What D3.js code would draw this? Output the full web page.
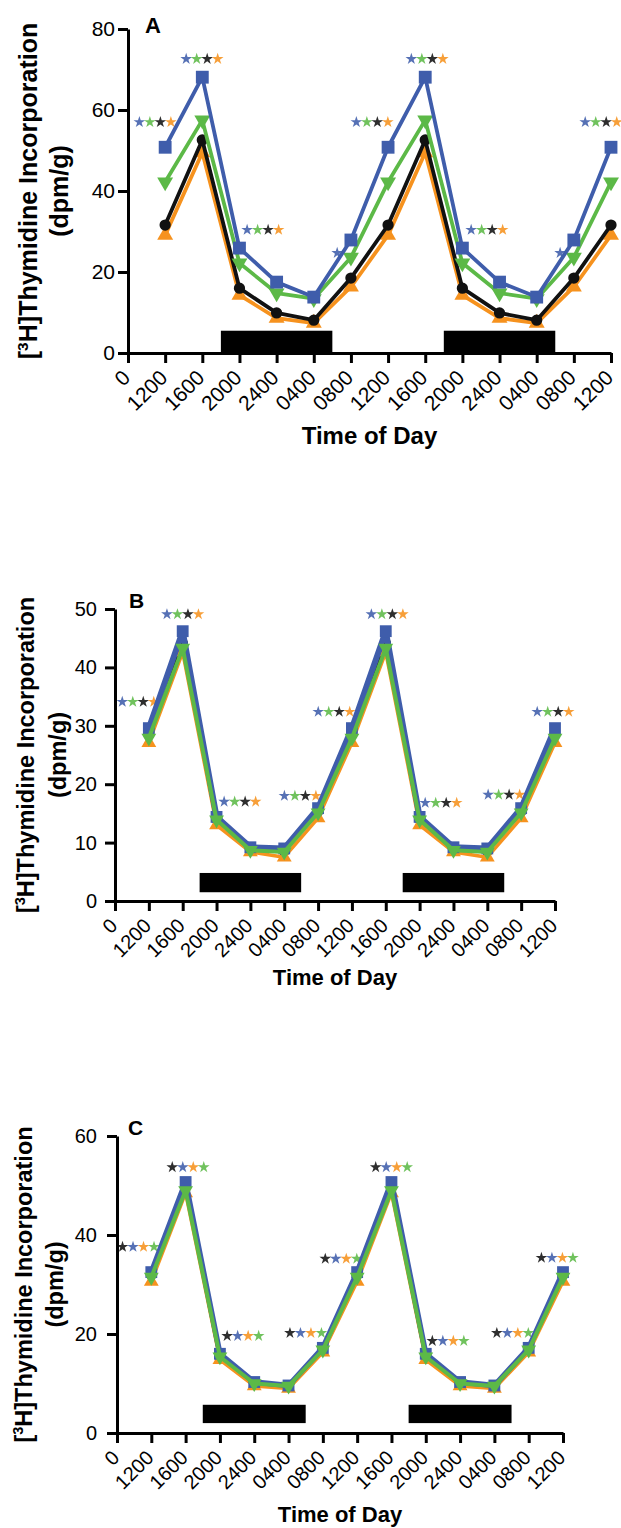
<!DOCTYPE html>
<html>
<head>
<meta charset="utf-8">
<script src="https://cdn.jsdelivr.net/npm/d3@7"></script>
<style>
  html, body { margin: 0; padding: 0; background: #fff; }
  svg { display: block; }
</style>
</head>
<body>
<svg id="fig" width="621" height="1528"></svg>
<script>
// Sampling times (index 0 is the origin tick labelled "0")
const timeLabels = ["0", "1200", "1600", "2000", "2400", "0400", "0800",
                    "1200", "1600", "2000", "2400", "0400", "0800", "1200"];
const sampleIndex = [1, 2, 3, 4, 5, 6, 7, 8, 9, 10, 11, 12, 13];

// Dark period (lights off) in tick-index units
const darkStart = [2.5, 8.5];
const darkEnd = [5.5, 11.5];

// Panel A values (dpm/g)
const aBlue   = [50.8, 68.1, 25.9, 17.5, 13.8, 27.9, 50.8, 68.1, 25.9, 17.5, 13.8, 27.9, 50.8];
const aGreen  = [42.2, 57.5, 22.2, 14.8, 13.4, 23.6, 42.2, 57.5, 22.2, 14.8, 13.4, 23.6, 42.2];
const aBlack  = [31.6, 52.6, 16.0, 9.9, 8.1, 18.5, 31.6, 52.6, 16.0, 9.9, 8.1, 18.5, 31.6];
const aOrange = [29.1, 49.5, 14.3, 8.6, 7.4, 16.3, 29.1, 49.5, 14.3, 8.6, 7.4, 16.3, 29.1];
const aYTicks = [0, 20, 40, 60, 80];
const aStarPos   = [0.73, 1.99, 3.63, 5.63, 6.57, 8.05, 9.66, 11.63, 12.73];
const aStarLevel = [57, 72.6, 30.4, 24.7, 57, 72.6, 30.4, 24.7, 57];
const aStarCount = [4, 4, 4, 1, 4, 4, 4, 1, 4];
const aStarOrder = ["blue", "green", "black", "orange"];

// Panel B values (dpm/g)
const bBlue   = [29.6, 46.2, 14.4, 9.2, 9.0, 15.9, 29.6, 46.2, 14.4, 9.2, 9.0, 15.9, 29.6];
const bGreen  = [27.9, 43.3, 13.9, 8.7, 8.4, 15.1, 27.9, 43.3, 13.9, 8.7, 8.4, 15.1, 27.9];
const bBlack  = [28.4, 44.2, 14.0, 8.8, 8.5, 15.3, 28.4, 44.2, 14.0, 8.8, 8.5, 15.3, 28.4];
const bOrange = [27.1, 42.6, 13.0, 8.4, 7.5, 14.2, 27.1, 42.6, 13.0, 8.4, 7.5, 14.2, 27.1];
const bYTicks = [0, 10, 20, 30, 40, 50];
const bStarPos   = [0.68, 2.0, 3.69, 5.47, 6.47, 8.04, 9.63, 11.49, 12.94];
const bStarLevel = [34.1, 49.1, 17.0, 18.0, 32.4, 49.1, 16.8, 18.2, 32.4];
const bStarCount = [4, 4, 4, 4, 4, 4, 4, 4, 4];
const bStarOrder = ["blue", "green", "black", "orange"];

// Panel C values (dpm/g)
const cBlue   = [32.5, 50.7, 16.0, 10.3, 9.6, 17.2, 32.5, 50.7, 16.0, 10.3, 9.6, 17.2, 32.5];
const cGreen  = [31.5, 49.0, 15.4, 10.0, 9.5, 16.8, 31.5, 49.0, 15.4, 10.0, 9.5, 16.8, 31.5];
const cBlack  = [31.9, 49.6, 15.3, 9.8, 9.3, 16.8, 31.9, 49.6, 15.3, 9.8, 9.3, 16.8, 31.9];
const cOrange = [30.6, 48.5, 14.8, 9.5, 9.0, 16.3, 30.6, 48.5, 14.8, 9.5, 9.0, 16.3, 30.6];
const cYTicks = [0, 20, 40, 60];
const cStarPos   = [0.62, 2.07, 3.67, 5.5, 6.53, 8.0, 9.65, 11.53, 12.83];
const cStarLevel = [37.6, 53.7, 19.6, 20.2, 35.2, 53.7, 18.6, 20.2, 35.4];
const cStarCount = [4, 4, 4, 4, 4, 4, 4, 4, 4];
const cStarOrder = ["black", "blue", "orange", "green"];

const COLORS = { blue: "#3f5dab", green: "#5cb947", black: "#111111", orange: "#f6921e" };
const FONT = "'Liberation Sans', Arial, Helvetica, sans-serif";

const svg = d3.select("#fig");

function markerPath(shape, size) {
  const type = shape === "square" ? d3.symbolSquare
             : shape === "circle" ? d3.symbolCircle
             : d3.symbolTriangle;
  return d3.symbol(type, size)();
}

function drawPanel(p) {
  const x = d3.scaleLinear().domain([0, 13]).range([p.left, p.right]);
  const y = d3.scaleLinear().domain([0, p.yMax]).range([p.bottom, p.top]);
  const g = svg.append("g").attr("font-family", FONT);

  // lights-off bars
  g.append("g").selectAll("rect")
    .data(d3.zip(darkStart, darkEnd))
    .join("rect")
    .attr("x", d => x(d[0]))
    .attr("width", d => x(d[1]) - x(d[0]))
    .attr("y", y(p.bar[1]))
    .attr("height", y(p.bar[0]) - y(p.bar[1]))
    .attr("fill", "#000");

  // significance stars
  const starPath = d3.symbol(d3.symbolStar, 42)();
  const sg = g.append("g");
  p.starPos.forEach((pos, i) => {
    const colors = p.starCount[i] === 4 ? p.starOrder : [p.starOrder[0]];
    colors.forEach((c, k) => {
      const off = (k - (colors.length - 1) / 2) * 10.5;
      sg.append("path")
        .attr("d", starPath)
        .attr("transform", `translate(${x(pos) + off},${y(p.starLevel[i])})`)
        .attr("fill", COLORS[c])
        .attr("opacity", 0.88);
    });
  });

  // series lines and markers
  p.series.forEach(s => {
    const pts = sampleIndex.map((idx, i) => [idx, s.values[i]]);
    g.append("path")
      .datum(pts)
      .attr("fill", "none")
      .attr("stroke", COLORS[s.color])
      .attr("stroke-width", s.width)
      .attr("stroke-linejoin", "round")
      .attr("d", d3.line().x(d => x(d[0])).y(d => y(d[1])));
    g.append("g").selectAll("path")
      .data(pts)
      .join("path")
      .attr("d", markerPath(s.shape, s.size))
      .attr("transform", d => `translate(${x(d[0])},${y(d[1])})` + (s.shape === "down" ? " rotate(180)" : ""))
      .attr("fill", COLORS[s.color]);
  });

  // y axis
  const ya = g.append("g")
    .attr("transform", `translate(${p.left},0)`)
    .call(d3.axisLeft(y).tickValues(p.yTicks).tickSize(10).tickSizeOuter(0).tickPadding(p.yPad));
  ya.select(".domain").attr("stroke-width", 3).attr("stroke", "#000");
  ya.selectAll(".tick line").attr("stroke-width", 3).attr("stroke", "#000");
  ya.selectAll(".tick text").attr("font-size", p.tickFont).attr("font-family", FONT).attr("fill", "#000");

  // x axis
  const xa = g.append("g")
    .attr("transform", `translate(0,${p.bottom})`)
    .call(d3.axisBottom(x).tickValues(d3.range(14)).tickFormat(i => timeLabels[i])
      .tickSize(10).tickSizeOuter(0));
  xa.select(".domain").attr("stroke-width", 3).attr("stroke", "#000");
  xa.selectAll(".tick line").attr("stroke-width", 3).attr("stroke", "#000");
  xa.selectAll(".tick text")
    .attr("font-size", p.tickFont).attr("font-family", FONT).attr("fill", "#000")
    .attr("x", 0).attr("y", 0).attr("dy", 0)
    .attr("text-anchor", "end")
    .attr("transform", "translate(3,26) rotate(-45)");

  // panel letter
  g.append("text")
    .attr("x", p.letterX).attr("y", p.letterY)
    .attr("font-weight", "bold")
    .attr("font-size", p.letterFont).text(p.letter);

  // x title
  g.append("text")
    .attr("x", (p.left + p.right) / 2).attr("y", p.titleY)
    .attr("text-anchor", "middle")
    .attr("font-weight", "bold")
    .attr("font-size", p.titleFont).text("Time of Day");

  // y title (two lines)
  const yc = (p.top + p.bottom) / 2;
  const t1 = g.append("text")
    .attr("transform", `translate(${p.yTitleX[0]},${yc}) rotate(-90)`)
    .attr("text-anchor", "middle")
    .attr("font-weight", "bold")
    .attr("font-size", p.yTitleFont);
  t1.append("tspan").text("[");
  t1.append("tspan").attr("font-size", p.yTitleFont * 0.62).attr("dy", -p.yTitleFont * 0.38).text("3");
  t1.append("tspan").attr("dy", p.yTitleFont * 0.38).text("H]Thymidine Incorporation");
  g.append("text")
    .attr("transform", `translate(${p.yTitleX[1]},${yc}) rotate(-90)`)
    .attr("text-anchor", "middle")
    .attr("font-weight", "bold")
    .attr("font-size", p.yTitleFont).text("(dpm/g)");
}

drawPanel({
  letter: "A", letterX: 145, letterY: 33, letterFont: 22,
  left: 128, right: 611, bottom: 353, top: 29, yMax: 80,
  yTicks: aYTicks, yPad: 3, tickFont: 21,
  bar: [0, 5.5],
  titleY: 444, titleFont: 24,
  yTitleX: [37, 68], yTitleFont: 25,
  starPos: aStarPos, starLevel: aStarLevel, starCount: aStarCount, starOrder: aStarOrder,
  series: [
    { values: aOrange, color: "orange", shape: "up", size: 110, width: 3.8 },
    { values: aBlack, color: "black", shape: "circle", size: 100, width: 3.8 },
    { values: aGreen, color: "green", shape: "down", size: 110, width: 3.8 },
    { values: aBlue, color: "blue", shape: "square", size: 165, width: 3.8 }
  ]
});

drawPanel({
  letter: "B", letterX: 129, letterY: 608, letterFont: 21,
  left: 115, right: 555, bottom: 901, top: 609, yMax: 50,
  yTicks: bYTicks, yPad: 8, tickFont: 20,
  bar: [1.5, 4.8],
  titleY: 985, titleFont: 22,
  yTitleX: [34, 66], yTitleFont: 23.5,
  starPos: bStarPos, starLevel: bStarLevel, starCount: bStarCount, starOrder: bStarOrder,
  series: [
    { values: bBlack, color: "black", shape: "circle", size: 85, width: 3.5 },
    { values: bOrange, color: "orange", shape: "up", size: 95, width: 3.5 },
    { values: bBlue, color: "blue", shape: "square", size: 140, width: 6 },
    { values: bGreen, color: "green", shape: "down", size: 95, width: 4 }
  ]
});

drawPanel({
  letter: "C", letterX: 128, letterY: 1135, letterFont: 21,
  left: 117, right: 563, bottom: 1433, top: 1136, yMax: 60,
  yTicks: cYTicks, yPad: 10, tickFont: 20,
  bar: [2, 5.7],
  titleY: 1522, titleFont: 22,
  yTitleX: [32, 63], yTitleFont: 23.5,
  starPos: cStarPos, starLevel: cStarLevel, starCount: cStarCount, starOrder: cStarOrder,
  series: [
    { values: cBlack, color: "black", shape: "circle", size: 85, width: 3.5 },
    { values: cOrange, color: "orange", shape: "up", size: 95, width: 3.5 },
    { values: cBlue, color: "blue", shape: "square", size: 140, width: 5.5 },
    { values: cGreen, color: "green", shape: "down", size: 95, width: 4 }
  ]
});
</script>
</body>
</html>
